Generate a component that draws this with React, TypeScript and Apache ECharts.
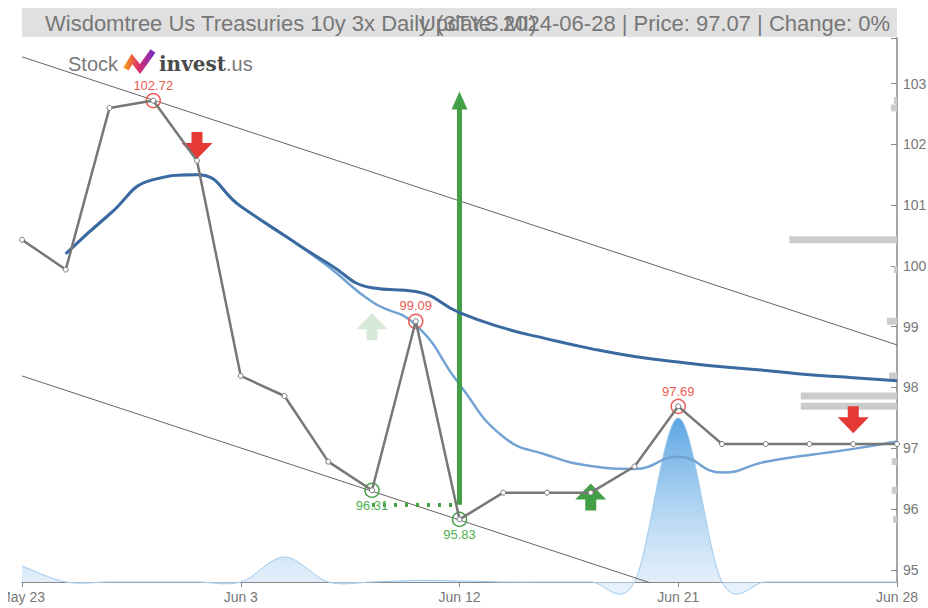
import React, { useEffect, useRef } from "react";
import * as echarts from "echarts";

const FONT = "'Liberation Sans', Arial, sans-serif";

const titleText = "Wisdomtree Us Treasuries 10y 3x Daily (3TYS.MI)";
const subText = "Update: 2024-06-28 | Price: 97.07 | Change: 0%";

const dates = [
  "May 23", "May 24", "May 27", "May 28", "May 30", "Jun 3", "Jun 4", "Jun 5", "Jun 6", "Jun 10",
  "Jun 12", "Jun 13", "Jun 14", "Jun 17", "Jun 19", "Jun 21", "Jun 24", "Jun 25", "Jun 26", "Jun 27", "Jun 28",
];

const closePrices = [
  100.43, 99.94, 102.6, 102.72, 101.73, 98.19, 97.86, 96.78, 96.31, 99.09,
  95.83, 96.27, 96.27, 96.27, 96.7, 97.69, 97.07, 97.07, 97.07, 97.07, 97.07,
];

const maSlow = [
  null, 100.2, 100.85, 101.42, 101.5, 100.98, 100.5, 100.04, 99.64, 99.58,
  99.23, 98.98, 98.8, 98.64, 98.51, 98.42, 98.34, 98.28, 98.21, 98.16, 98.11,
];

const maFast = [
  null, 100.2, 100.85, 101.42, 101.5, 100.98, 100.5, 99.99, 99.41, 99.03,
  98.05, 97.19, 96.89, 96.71, 96.66, 96.86, 96.6, 96.78, 96.89, 96.99, 97.11,
];

const volumes = [
  294, 0, 0, 0, 0, 0, 460, 0, 0, 30,
  20, 0, 0, 0, 0, 3015, 0, 0, 0, 0, 0,
];

const channelUpper = [103.44, 98.7];
const channelLower = [98.19, 93.45];

const peakIdx = [3, 9, 15];
const troughIdx = [8, 10];

const signalIdx = [4, 8, 13, 19];
const signalValue = [101.98, 99.0, 96.2, 97.47];
const signalType = ["sell", "buyFaded", "buy", "sell"];

const supportLevel = 96.07;
const supportFromIdx = 8;
const arrowIdx = 10;

const profileLevels = [102.72, 102.6, 100.43, 99.94, 99.09, 98.19, 97.86, 97.69, 96.78, 96.31, 95.83];
const profileSizes = [0.35, 0.7, 12.3, 0.35, 1.15, 0.9, 11.0, 11.0, 0.6, 0.6, 0.45];

const yMin = 94.8;
const yMax = 103.75;

const RED = "#e53935";
const RED_T = "#ee5a52";
const GREEN = "#43a047";
const GRAY = "#777";

const DOWN_ARROW = "path://M10,0 L21,0 L21,11 L31,11 L15.5,27 L0,11 L10,11 Z";
const UP_ARROW = "path://M15.5,0 L31,16 L21,16 L21,27 L10,27 L10,16 L0,16 Z";

export default function App() {
  const ref = useRef<HTMLDivElement>(null);

  useEffect(() => {
    if (!ref.current) return;
    const chart = echarts.init(ref.current, null, { renderer: "svg" });

    const peakMarks = peakIdx.map((i) => ({
      coord: [dates[i], closePrices[i]],
      value: closePrices[i],
      symbol: "circle",
      symbolSize: 14,
      itemStyle: { color: "rgba(0,0,0,0)", borderColor: RED_T, borderWidth: 1.5 },
      label: {
        show: true,
        position: "top",
        distance: 1,
        color: RED_T,
        fontSize: 13,
        fontFamily: FONT,
        formatter: closePrices[i].toFixed(2),
      },
    }));
    const troughMarks = troughIdx.map((i) => ({
      coord: [dates[i], closePrices[i]],
      value: closePrices[i],
      symbol: "circle",
      symbolSize: 14,
      itemStyle: { color: "rgba(0,0,0,0)", borderColor: GREEN, borderWidth: 1.5 },
      label: {
        show: true,
        position: "bottom",
        distance: 1,
        color: "#4caf50",
        fontSize: 13,
        fontFamily: FONT,
        formatter: closePrices[i].toFixed(2),
      },
    }));
    const signalMarks = signalIdx.map((i, k) => {
      const t = signalType[k];
      return {
        coord: [dates[i], signalValue[k]],
        value: signalValue[k],
        symbol: t === "sell" ? DOWN_ARROW : UP_ARROW,
        symbolSize: [31, 27],
        itemStyle: {
          color: t === "sell" ? RED : t === "buy" ? GREEN : "rgba(67,160,71,0.22)",
        },
        label: { show: false },
      };
    });

    const volumeFill = new echarts.graphic.LinearGradient(0, 0, 0, 1, [
      { offset: 0, color: "#5aa5e2" },
      { offset: 1, color: "rgba(214,232,248,0.55)" },
    ]);

    const option: any = {
      animation: false,
      textStyle: { fontFamily: FONT },
      grid: { left: 14, right: 31, top: 30, bottom: 26, containLabel: false, outerBoundsMode: "none" },
      graphic: [
        {
          type: "rect",
          shape: { x: 14, y: 0, width: 875, height: 29 },
          style: { fill: "#e0e0e0" },
          z: 0,
        },
        {
          type: "text",
          x: 37,
          y: 15,
          style: {
            text: titleText,
            fill: GRAY,
            fontSize: 22,
            fontFamily: FONT,
            align: "left",
            verticalAlign: "middle",
          },
        },
        {
          type: "text",
          x: 882,
          y: 15,
          style: {
            text: subText,
            fill: GRAY,
            fontSize: 22,
            fontFamily: FONT,
            align: "right",
            verticalAlign: "middle",
          },
        },
        {
          type: "text",
          x: 60,
          y: 56,
          style: {
            text: "Stock",
            fill: "#7a7a7a",
            fontSize: 20,
            fontFamily: FONT,
            align: "left",
            verticalAlign: "middle",
          },
        },
        {
          type: "polyline",
          shape: { points: [[118, 61], [124, 51], [132, 61], [145, 43]] },
          style: {
            stroke: new echarts.graphic.LinearGradient(0, 0, 1, 0, [
              { offset: 0, color: "#f7931e" },
              { offset: 0.45, color: "#e0306a" },
              { offset: 1, color: "#7b2cbf" },
            ]),
            lineWidth: 6,
            fill: "none",
            lineJoin: "miter",
          },
        },
        {
          type: "text",
          x: 151,
          y: 56,
          style: {
            text: "{b|invest}{c|.us}",
            align: "left",
            verticalAlign: "middle",
            rich: {
              b: { fontSize: 20, fontWeight: "bold", fontFamily: "'DejaVu Serif', serif", fill: "#4a4a4a", color: "#4a4a4a" },
              c: { fontSize: 20, fontFamily: FONT, fill: "#7a7a7a", color: "#7a7a7a" },
            },
          },
        },
      ],
      xAxis: [
        {
          type: "category",
          data: dates,
          boundaryGap: false,
          axisLine: { lineStyle: { color: "#888", width: 1 } },
          axisTick: { interval: 4, length: 5, lineStyle: { color: "#888" } },
          axisLabel: { interval: 4, color: GRAY, fontSize: 14, margin: 8, fontFamily: FONT },
          splitLine: { show: false },
        },
        { type: "value", min: 0, max: 100, inverse: true, show: false },
      ],
      yAxis: [
        {
          type: "value",
          position: "right",
          min: yMin,
          max: yMax,
          minInterval: 1,
          maxInterval: 1,
          splitNumber: 9,
          axisLine: { show: true, lineStyle: { color: "#888", width: 1.5 } },
          axisTick: { show: true, inside: true, length: 6, lineStyle: { color: "#888" } },
          axisLabel: {
            color: GRAY,
            fontSize: 14,
            margin: 6,
            fontFamily: FONT,
            formatter: (v: number) => (Math.abs(v - Math.round(v)) < 1e-6 ? String(Math.round(v)) : ""),
          },
          splitLine: { show: false },
        },
        { type: "value", min: 0, max: 10000, show: false },
      ],
      series: [
        {
          type: "custom",
          name: "Volume",
          xAxisIndex: 0,
          yAxisIndex: 1,
          data: volumes.map((v, i) => [i, v]),
          encode: { x: 0, y: 1 },
          clip: false,
          silent: true,
          renderItem: (params: any, api: any) => {
            if (params.dataIndex !== 0) return null;
            const pts = volumes.map((v, i) => api.coord([i, v]));
            const base = api.coord([0, 0])[1];
            let d = `M${pts[0][0]},${pts[0][1]}`;
            for (let i = 0; i < pts.length - 1; i++) {
              const p0 = pts[i - 1] || pts[i];
              const p1 = pts[i];
              const p2 = pts[i + 1];
              const p3 = pts[i + 2] || pts[i + 1];
              const c1x = p1[0] + (p2[0] - p0[0]) / 6;
              const c1y = p1[1] + (p2[1] - p0[1]) / 6;
              const c2x = p2[0] - (p3[0] - p1[0]) / 6;
              const c2y = p2[1] - (p3[1] - p1[1]) / 6;
              d += ` C${c1x},${c1y} ${c2x},${c2y} ${p2[0]},${p2[1]}`;
            }
            const last = pts[pts.length - 1];
            const area = `${d} L${last[0]},${base} L${pts[0][0]},${base} Z`;
            return {
              type: "group",
              children: [
                { type: "path", shape: { pathData: area }, style: { fill: volumeFill } },
                { type: "path", shape: { pathData: d }, style: { fill: "none", stroke: "#9ecbf0", lineWidth: 1 } },
              ],
            };
          },
          z: 1,
        },
        {
          type: "custom",
          name: "Profile",
          xAxisIndex: 1,
          yAxisIndex: 0,
          data: profileLevels.map((lv, k) => [profileSizes[k], lv]),
          encode: { x: 0, y: 1 },
          renderItem: (params: any, api: any) => {
            const size = api.value(0);
            const lv = api.value(1);
            const p0 = api.coord([0, lv]);
            const p1 = api.coord([size, lv]);
            const h = api.size([0, 0.115])[1];
            return {
              type: "rect",
              shape: { x: p1[0], y: p0[1] - h / 2, width: p0[0] - p1[0], height: h },
              style: { fill: "#cccccc" },
            };
          },
          z: 2,
        },
        {
          type: "line",
          name: "Upper",
          data: [[dates[0], channelUpper[0]], [dates[dates.length - 1], channelUpper[1]]],
          symbol: "none",
          lineStyle: { color: "#666", width: 1 },
          z: 3,
        },
        {
          type: "line",
          name: "Lower",
          data: [[dates[0], channelLower[0]], [dates[dates.length - 1], channelLower[1]]],
          symbol: "none",
          lineStyle: { color: "#666", width: 1 },
          z: 3,
        },
        {
          type: "line",
          name: "MA fast",
          data: maFast,
          smooth: true,
          symbol: "none",
          lineStyle: { color: "#72a3d3", width: 2.5 },
          z: 4,
        },
        {
          type: "line",
          name: "MA slow",
          data: maSlow,
          smooth: true,
          symbol: "none",
          lineStyle: { color: "#3a6aa0", width: 3 },
          z: 5,
        },
        {
          type: "line",
          name: "Price",
          data: closePrices,
          symbol: "circle",
          symbolSize: 5,
          itemStyle: { color: "#fff", borderColor: GRAY, borderWidth: 1 },
          lineStyle: { color: GRAY, width: 2.5 },
          z: 6,
          markPoint: {
            silent: true,
            data: [...signalMarks, ...peakMarks, ...troughMarks],
          },
          markLine: {
            silent: true,
            symbol: ["none", "none"],
            label: { show: false },
            data: [
              [
                {
                  coord: [dates[arrowIdx], supportLevel],
                  symbol: "none",
                  lineStyle: { color: GREEN, width: 5, type: "solid" },
                },
                {
                  coord: [dates[arrowIdx], Math.max(...closePrices)],
                  symbol: "triangle",
                  symbolSize: [16, 18],
                },
              ],
              [
                {
                  coord: [dates[supportFromIdx], supportLevel],
                  symbol: "none",
                  lineStyle: { color: GREEN, width: 4, type: [3, 8] },
                },
                { coord: [dates[arrowIdx], supportLevel], symbol: "none" },
              ],
            ],
          },
        },
      ],
    };

    chart.setOption(option);
    return () => chart.dispose();
  }, []);

  return (
    <div
      ref={ref}
      style={{ position: "absolute", left: 8, top: 8, width: 920, height: 600 }}
    />
  );
}
